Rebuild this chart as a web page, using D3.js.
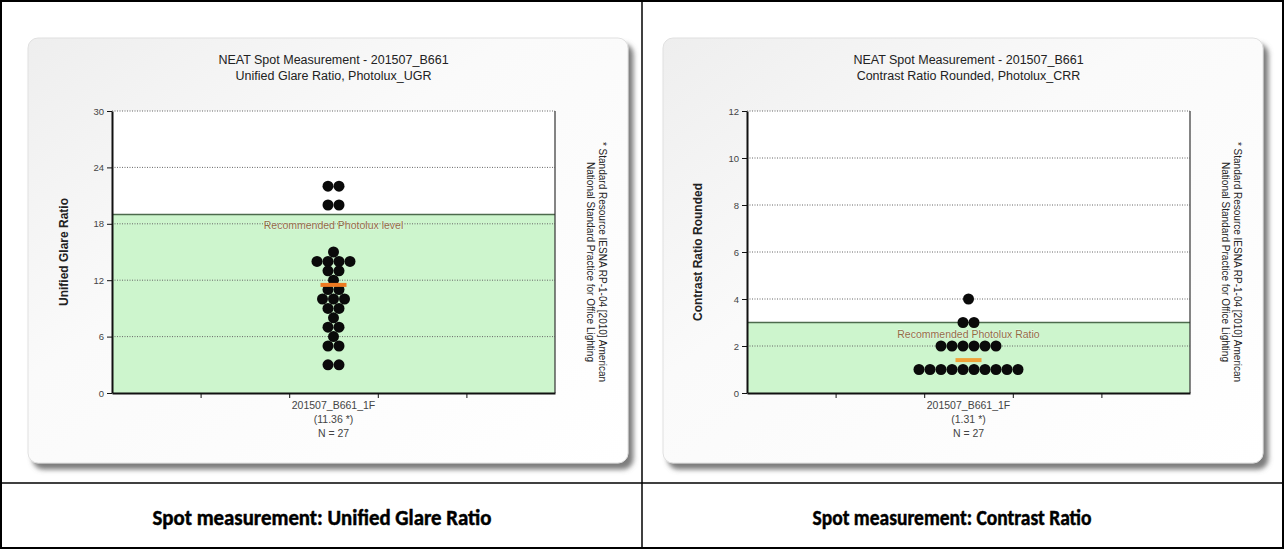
<!DOCTYPE html>
<html><head><meta charset="utf-8">
<script src="https://cdn.jsdelivr.net/npm/d3@7"></script>
<style>
html,body{margin:0;padding:0;background:#fff;}
svg{display:block;}
text{font-family:"Liberation Sans",Arial,sans-serif;}
</style></head>
<body>
<svg id="c" width="1285" height="550"></svg>
<script>
// ---------- data ----------
const chartTitles = ["NEAT Spot Measurement - 201507_B661", "NEAT Spot Measurement - 201507_B661"];
const chartSubtitles = ["Unified Glare Ratio, Photolux_UGR", "Contrast Ratio Rounded, Photolux_CRR"];
const yTitles = ["Unified Glare Ratio", "Contrast Ratio Rounded"];
const categories = ["201507_B661_1F"];
const ugrValues = [22,22,20,20,15,14,14,14,14,13,13,12,11,11,10,10,10,9,9,8,7,7,6,5,5,3,3];
const crrValues = [4,3,3,2,2,2,2,2,2,1,1,1,1,1,1,1,1,1,1];
const meanLabels = ["(11.36 *)", "(1.31 *)"];
const meanMarks = [11.5, 1.4];
const nLabels = ["N = 27", "N = 27"];
const thresholds = [19, 3];
const thresholdLabels = ["Recommended Photolux level", "Recommended Photolux Ratio"];
const yMax = [30, 12];
const yTicks = [[0,6,12,18,24,30],[0,2,4,6,8,10,12]];
const meanColors = ["#ee7a22", "#f0a238"];
const noteLines = ["* Standard Resource IESNA RP-1-04 [2010] American", "National Standard Practice for Office Lighting"];
const captions = ["Spot measurement: Unified Glare Ratio", "Spot measurement: Contrast Ratio"];
const seriesValues = [ugrValues, crrValues];

// ---------- drawing ----------
const svg = d3.select("#c");
const defs = svg.append("defs");
const f = defs.append("filter").attr("id","sh").attr("x","-5%").attr("y","-5%").attr("width","115%").attr("height","115%");
f.append("feDropShadow").attr("dx",5).attr("dy",6).attr("stdDeviation",2.5).attr("flood-color","#666").attr("flood-opacity",0.85);
const g0 = defs.append("linearGradient").attr("id","bx").attr("x1",0).attr("y1",0).attr("x2",1).attr("y2",1);
g0.append("stop").attr("offset","0%").attr("stop-color","#eeeeee");
g0.append("stop").attr("offset","40%").attr("stop-color","#fafafa");
g0.append("stop").attr("offset","100%").attr("stop-color","#ffffff");

// table frame
svg.append("rect").attr("x",1).attr("y",1).attr("width",1282).attr("height",547)
  .attr("fill","none").attr("stroke","#000").attr("stroke-width",2);
svg.append("line").attr("x1",642).attr("x2",642).attr("y1",1).attr("y2",548).attr("stroke","#000").attr("stroke-width",1.5);
svg.append("line").attr("x1",1).attr("x2",1284).attr("y1",483).attr("y2",483).attr("stroke","#000").attr("stroke-width",1.5);

const capX = [322, 952];
captions.forEach((c,i)=>{
  svg.append("text").attr("x",capX[i]).attr("y",525).attr("text-anchor","middle")
    .style("font-family","Carlito,'Liberation Sans Narrow','Liberation Sans',sans-serif")
    .style("font-weight","bold").style("font-size","23px").attr("fill","#000")
    .attr("stroke","#000").attr("stroke-width",0.5)
    .attr("textLength", i===0?339:279).attr("lengthAdjust","spacingAndGlyphs")
    .text(c);
});

const offsets = [0, 635];
const R = 5.5, STEP = 11;

offsets.forEach((ox, i) => {
  const g = svg.append("g").attr("transform", `translate(${ox},0)`);
  // box
  g.append("rect").attr("x",28).attr("y",38).attr("width",600).attr("height",425).attr("rx",10)
    .attr("fill","url(#bx)").attr("filter","url(#sh)").attr("stroke","#e0e0e0").attr("stroke-width",1);

  const L = 112, Rt = 555, T = 111, B = 393;
  const y = d3.scaleLinear().domain([0, yMax[i]]).range([B, T]);
  const x = d3.scaleLinear().domain([0, 5]).range([L, Rt]);
  const cx = x(2.5);

  // plot bg
  g.append("rect").attr("x",L).attr("y",T).attr("width",Rt-L).attr("height",B-T).attr("fill","#fff");
  g.append("rect").attr("x",L).attr("y",y(thresholds[i])).attr("width",Rt-L).attr("height",B-y(thresholds[i]))
    .attr("fill","#cdf5cd");

  // grid
  g.append("g").selectAll("line").data(yTicks[i].filter(d=>d>0)).join("line")
    .attr("x1",L).attr("x2",Rt).attr("y1",d=>y(d)).attr("y2",d=>y(d))
    .attr("stroke","#666").attr("stroke-width",1).attr("stroke-dasharray","1,1.5");

  // threshold line
  g.append("line").attr("x1",L).attr("x2",Rt).attr("y1",y(thresholds[i])).attr("y2",y(thresholds[i]))
    .attr("stroke","#4d6b4d").attr("stroke-width",1.5);
  // right border
  g.append("line").attr("x1",Rt).attr("x2",Rt).attr("y1",T).attr("y2",B).attr("stroke","#333").attr("stroke-width",1.2);

  // threshold label
  g.append("text").attr("x",cx).attr("y",y(thresholds[i])+15).attr("text-anchor","middle")
    .style("font-size","10.5px").attr("fill","#8f6c42")
    .attr("stroke","#fff").attr("stroke-width",0.4).attr("paint-order","stroke")
    .text(thresholdLabels[i]);

  // dots (beeswarm rows)
  const groups = d3.groups(seriesValues[i], d=>d);
  const pts = [];
  groups.forEach(([v, arr]) => {
    const n = arr.length;
    arr.forEach((d,k)=> pts.push({v:d, dx:(k-(n-1)/2)*STEP}));
  });
  g.append("g").selectAll("circle").data(pts).join("circle")
    .attr("cx",d=>cx+d.dx).attr("cy",d=>y(d.v)).attr("r",R).attr("fill","#0a0a0a");

  // mean marker
  g.append("rect").attr("x",cx-13).attr("y",y(meanMarks[i])-2).attr("width",26).attr("height",4)
    .attr("fill",meanColors[i]);

  // axes
  const ya = d3.axisLeft(y).tickValues(yTicks[i]).tickSize(5).tickPadding(3).tickSizeOuter(0);
  const yg = g.append("g").attr("transform",`translate(${L},0)`).call(ya);
  yg.select(".domain").attr("stroke","#111").attr("stroke-width",2);
  yg.selectAll(".tick line").attr("stroke","#111");
  yg.selectAll(".tick text").style("font-size","9.5px").attr("fill","#444").style("font-family","'Liberation Sans',sans-serif");

  const xa = d3.axisBottom(x).tickValues([1,2,3,4]).tickSize(5).tickFormat("").tickSizeOuter(0);
  const xg = g.append("g").attr("transform",`translate(0,${B})`).call(xa);
  xg.select(".domain").attr("stroke","#111").attr("stroke-width",2);
  xg.selectAll(".tick line").attr("stroke","#111");

  // category labels
  const lab = [categories[0], meanLabels[i], nLabels[i]];
  g.append("g").selectAll("text").data(lab).join("text")
    .attr("x",cx).attr("y",(d,k)=>409+k*14).attr("text-anchor","middle")
    .style("font-size","10.5px").attr("fill","#444").text(d=>d);

  // titles
  g.append("text").attr("x",cx).attr("y",64).attr("text-anchor","middle").style("font-size","12.5px").attr("fill","#222").text(chartTitles[i]);
  g.append("text").attr("x",cx).attr("y",80).attr("text-anchor","middle").style("font-size","12.5px").attr("fill","#222").text(chartSubtitles[i]);

  // y title
  g.append("text").attr("transform",`translate(${i===0?68:67},${(T+B)/2}) rotate(-90)`).attr("text-anchor","middle")
    .style("font-size","12px").style("font-weight","bold").attr("fill","#222").text(yTitles[i]);

  // rotated note
  noteLines.forEach((t,k)=>{
    g.append("text").attr("transform",`translate(${599-k*12},262) rotate(90)`).attr("text-anchor","middle")
      .style("font-size","10px").attr("fill","#222").text(t);
  });
});
</script>
</body></html>
